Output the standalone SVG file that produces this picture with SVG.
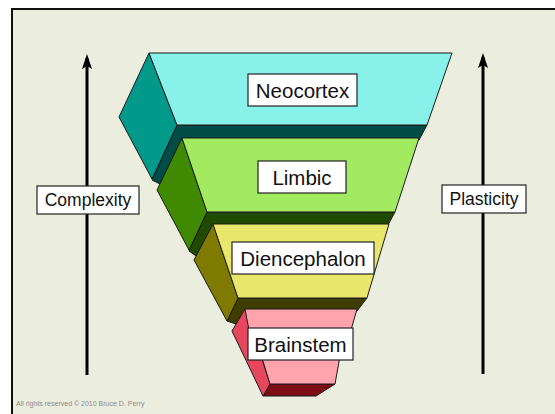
<svg xmlns="http://www.w3.org/2000/svg" width="555" height="414" viewBox="0 0 555 414">
<defs>
<style>
.face{stroke:#1a1a1a;stroke-width:1;stroke-linejoin:round}
.lbl{fill:#ffffff;stroke:#222;stroke-width:1.2}
.t{font-family:"Liberation Sans",Arial,sans-serif;fill:#111;text-anchor:middle}
.big{font-size:20.5px}
.side{font-size:17.5px}
.axis{stroke:#000;stroke-width:3;fill:none}
</style>
<marker id="ah" markerUnits="userSpaceOnUse" markerWidth="16" markerHeight="10" refX="12" refY="5" orient="auto" viewBox="0 0 16 10" overflow="visible">
<path d="M16,5 L1,0 L4,5 L1,10 Z" fill="#000"/>
</marker>
</defs>
<rect x="0" y="0" width="555" height="414" fill="#ffffff"/>
<rect x="12" y="9" width="560" height="420" fill="#ebeddf"/>
<path d="M12,414 L12,9 L555,9" fill="none" stroke="#111" stroke-width="2"/>

<g id="connectors">
<line class="axis" x1="87" y1="375" x2="87" y2="58" marker-end="url(#ah)"/>
<line class="axis" x1="483" y1="374" x2="483" y2="57" marker-end="url(#ah)"/>
</g>

<g id="neocortex">
<polygon class="face" fill="#004d47" points="177,125 427,125 419,140 182,140 160,184 152,180"/>
<polygon class="face" fill="#00998a" points="149,53 119,117 152,179 177,125"/>
<polygon class="face" fill="#88f2ea" points="149,53 452,53 427,125 177,125"/>
<rect class="lbl" x="248" y="74" width="109" height="32"/>
<text class="t big" x="302.5" y="97.5">Neocortex</text>
</g>

<g id="limbic">
<polygon class="face" fill="#1f4a00" points="207,212 395,212 388,225 213,225 196,256 189,251"/>
<polygon class="face" fill="#3f8a00" points="182,138 157,190 189,250 207,212"/>
<polygon class="face" fill="#a2ea60" points="182,138 419,138 395,212 207,212"/>
<rect class="lbl" x="258" y="161" width="88" height="32"/>
<text class="t big" x="302" y="184.5">Limbic</text>
</g>

<g id="diencephalon">
<polygon class="face" fill="#3f3d00" points="238,298 367,298 357,311 245,311 236,324 227,321"/>
<polygon class="face" fill="#7e7b00" points="213,224 194,260 227,321 238,298"/>
<polygon class="face" fill="#e9e66c" points="213,224 389,224 367,298 238,298"/>
<rect class="lbl" x="232" y="242" width="142" height="32"/>
<text class="t big" x="303" y="265.5">Diencephalon</text>
</g>

<g id="brainstem">
<polygon class="face" fill="#7c0c16" points="270,384 335,384 316,396 263,396"/>
<polygon class="face" fill="#e8465e" points="245,309 232,331 263,396 270,384 256,340"/>
<polygon class="face" fill="#ffa3ac" points="245,309 357,309 351,330 340,356 335,384 270,384 262,358 249,330"/>
<rect class="lbl" x="248" y="328" width="105" height="32"/>
<text class="t big" x="300.5" y="351.5">Brainstem</text>
</g>

<g id="complexity">
<rect class="lbl" x="37" y="186" width="102" height="28"/>
<text class="t side" x="88" y="206">Complexity</text>
</g>

<g id="plasticity">
<rect class="lbl" x="442" y="185" width="84" height="28"/>
<text class="t side" x="484" y="205">Plasticity</text>
</g>

<text x="16" y="406" font-family="Liberation Sans, Arial, sans-serif" font-size="7" fill="#8a8a8a">All rights reserved © 2010 Bruce D. Perry</text>
</svg>
